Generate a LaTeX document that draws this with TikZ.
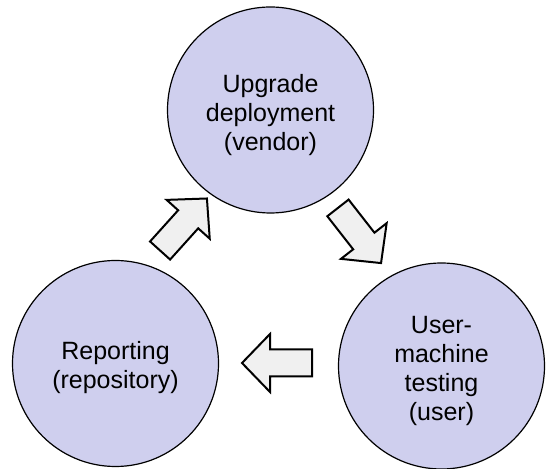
\documentclass[tikz,border=0pt]{standalone}
\usepackage{fontspec}
\setmainfont{Liberation Sans}
\usepackage{tikz}
\usepackage{xcolor}
\definecolor{stagefill}{RGB}{207,207,238}
\definecolor{arrowfill}{RGB}{240,240,240}

\begin{document}
\begin{tikzpicture}[x=1pt, y=1pt,
    stage/.style={circle, draw=black, line width=1.2pt, fill=stagefill,
      minimum size=206pt, inner sep=0pt, align=center,
      font=\fontsize{25}{29}\selectfont},
    fatarrow/.style={draw=black, line width=2pt, fill=arrowfill, line join=miter}]
  \useasboundingbox (0,0) rectangle (548,468);
  % Stages of the cycle
  \node[stage] (upgrade) at (270.5,358) {\rule{0pt}{28pt}Upgrade\\deployment\\(vendor)};
  \node[stage] (testing) at (441.5,102) {\rule{0pt}{27pt}User-\\machine\\testing\\(user)};
  \node[stage] (report)  at (115.5,104.5) {\rule{0pt}{27pt}Reporting\\(repository)};
  % Block arrows between stages
  \begin{scope}[shift={(359.5,232.5)}, rotate=-52]
    \draw[fatarrow] (-35,-13.5) -- (7,-13.5) -- (7,-29) -- (35,0) -- (7,29) -- (7,13.5) -- (-35,13.5) -- cycle;
  \end{scope}
  \begin{scope}[shift={(277,105)}, rotate=180]
    \draw[fatarrow] (-35,-13.5) -- (7,-13.5) -- (7,-29) -- (35,0) -- (7,29) -- (7,13.5) -- (-35,13.5) -- cycle;
  \end{scope}
  \begin{scope}[shift={(183.5,243.5)}, rotate=48]
    \draw[fatarrow] (-35,-13.5) -- (7,-13.5) -- (7,-29) -- (35,0) -- (7,29) -- (7,13.5) -- (-35,13.5) -- cycle;
  \end{scope}
\end{tikzpicture}
\end{document}
